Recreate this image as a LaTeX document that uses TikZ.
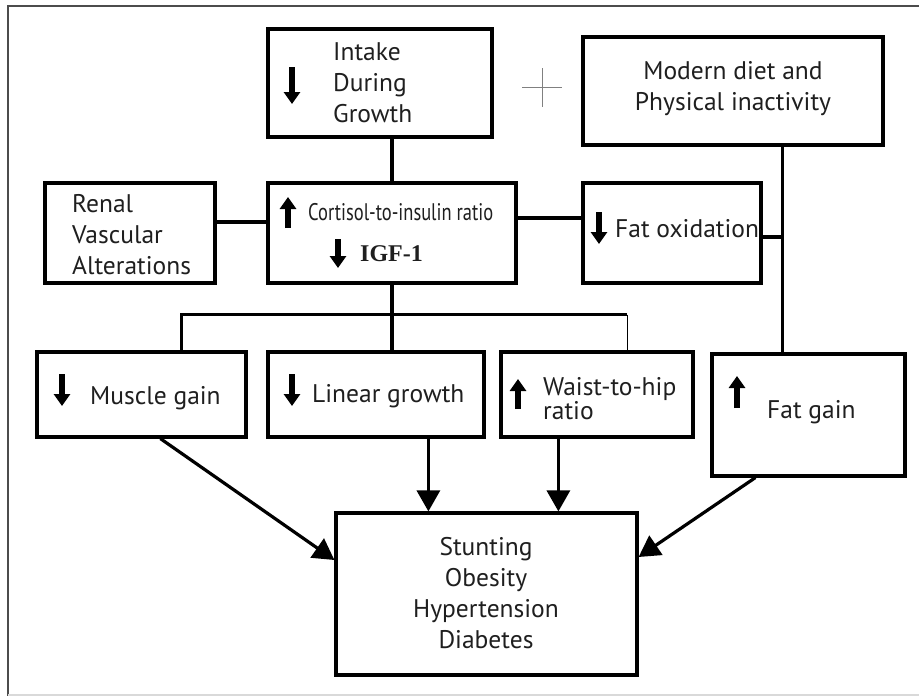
\documentclass[tikz,border=0pt]{standalone}
\usepackage{fontspec}
\setmainfont{PT Sans}
\newfontfamily\serifbold{Liberation Serif}
\usetikzlibrary{arrows.meta,calc}
\begin{document}
\begin{tikzpicture}[x=1pt,y=-1pt,line join=miter,
  box/.style={draw=black,line width=3.2pt,inner sep=0pt,fill=white},
  conn/.style={line width=3.3pt},
  thinconn/.style={line width=1.7pt},
  arr/.style={line width=3.2pt,-{Triangle[width=23pt,length=21pt]}},
  glyph/.style={line width=5.6pt,-{Triangle[width=16pt,length=12pt]}},
  txt/.style={font=\fontsize{25.5}{31}\selectfont,text=black!88,inner sep=0pt,align=left},
  ctxt/.style={txt,align=center}]
\useasboundingbox (0,0) rectangle (919,696);
% frame
\draw[black!70,line width=2pt] (8,696) -- (8,6) -- (919,6);
\draw[black!15,line width=1.5pt] (8,695) -- (919,695);
% boxes
\node[box,minimum width=224pt,minimum height=108pt] (intake) at (380,83) {};
\node[box,minimum width=300pt,minimum height=108pt] (modern) at (733,91) {};
\node[box,minimum width=170pt,minimum height=100pt] (renal) at (130,233) {};
\node[box,minimum width=248pt,minimum height=100pt] (cort) at (392,233) {};
\node[box,minimum width=178pt,minimum height=100pt] (fatox) at (672,233) {};
\node[box,minimum width=209pt,minimum height=85pt] (muscle) at (141.5,394.5) {};
\node[box,minimum width=216pt,minimum height=85pt] (linear) at (376,394.5) {};
\node[box,minimum width=192pt,minimum height=85pt] (waist) at (597,394.5) {};
\node[box,minimum width=193pt,minimum height=122pt] (fatgain) at (808.5,415) {};
\node[box,minimum width=301pt,minimum height=162pt] (stunt) at (486.5,594) {};
% texts
\node[txt,anchor=west] (tintake) at (333,83) {Intake\\During\\Growth};
\node[ctxt] (tmodern) at (733,89) {Modern diet and\\Physical inactivity};
\node[txt,anchor=west] (trenal) at (72,235) {Renal\\Vascular\\Alterations};
\node[txt,anchor=west,font=\fontsize{24}{26}\selectfont] (tcort) at (308,212) {\scalebox{0.77}[1]{Cortisol-to-insulin ratio}};
\node[txt,anchor=west,font=\fontsize{24}{26}\serifbold\bfseries] (tigf) at (360,254) {IGF-1};
\node[txt,anchor=west] (tfatox) at (615,229) {Fat oxidation};
\node[txt,anchor=west] (tmuscle) at (90,398) {Muscle gain};
\node[txt,anchor=west] (tlinear) at (312,396) {Linear growth};
\node[txt,anchor=west,font=\fontsize{25.5}{24}\selectfont] (twaist) at (543,399) {Waist-to-hip\\ratio};
\node[txt,anchor=west] (tfatgain) at (767,412) {Fat gain};
\node[ctxt] (tstunt) at (486,593) {Stunting\\Obesity\\Hypertension\\Diabetes};
% glyph arrows
\draw[glyph] (292,67) -- (292,104);
\draw[glyph] (288,228) -- (288,197);
\draw[glyph] (338,239) -- (338,268);
\draw[glyph] (599,212) -- (599,244);
\draw[glyph] (62,374) -- (62,406);
\draw[glyph] (292,374) -- (292,406);
\draw[glyph] (518,409) -- (518,379);
\draw[glyph] (737,408) -- (737,376);
% plus sign
\draw[black!50,line width=1pt] (522,87) -- (562,87) (542,68) -- (542,107);
% connector points
\coordinate (vtop) at ($(modern.south west)+(201,0)$);
\coordinate (split) at ($(cort.south)+(0,30)$);
\coordinate (mtop) at ($(muscle.north west)+(146,0)$);
\coordinate (wtop) at ($(waist.north west)+(128,0)$);
\coordinate (mbot) at ($(muscle.south west)+(125,0)$);
\coordinate (lbot) at ($(linear.south west)+(162,0)$);
\coordinate (wbot) at ($(waist.south west)+(59,0)$);
\coordinate (fbot) at ($(fatgain.south west)+(45,0)$);
\coordinate (sleft) at ($(stunt.west)+(0,-34)$);
\coordinate (sright) at ($(stunt.east)+(0,-37)$);
% connectors
\draw[conn] (cort.north) -- (cort.north |- intake.south);
\draw[conn] ($(renal.east)+(0,-11)$) -- ($(renal.east -| cort.west)+(0,-11)$);
\draw[conn] ($(cort.east)+(0,-15)$) -- ($(cort.east -| fatox.west)+(0,-15)$);
\draw[conn] (vtop) -- (vtop |- fatgain.north);
\draw[conn] ($(fatox.east)+(0,4)$) -- ($(fatox.east -| vtop)+(0,4)$);
\draw[conn] (cort.south) -- (split);
\draw[conn] (mtop) |- (split) -- (split -| wtop);
\draw[conn] (split) -- (linear.north -| split);
\draw[thinconn] (split -| wtop) -- (wtop);
% arrows
\draw[arr] (mbot) -- (sleft);
\draw[arr] (lbot) -- (lbot |- stunt.north);
\draw[arr] (wbot) -- (wbot |- stunt.north);
\draw[arr] (fbot) -- (sright);
\end{tikzpicture}
\end{document}
